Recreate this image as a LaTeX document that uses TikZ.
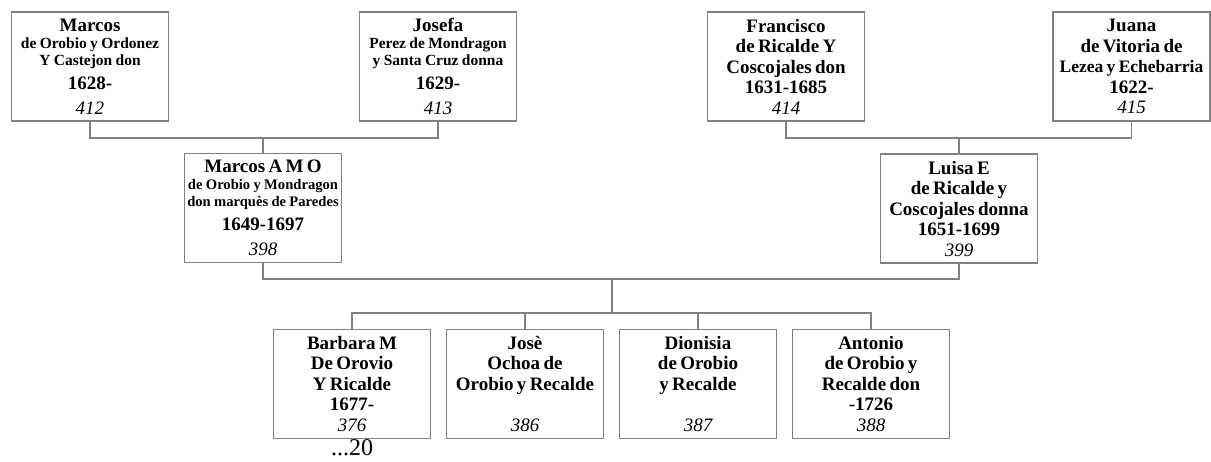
\documentclass[tikz,border=0pt]{standalone}
\usepackage{fontspec}
\setmainfont{Liberation Serif}
\definecolor{lg}{RGB}{128,128,128}
\newcommand\fnm{\fontsize{19}{20.5}\selectfont\bfseries}
\newcommand\fsub{\fontsize{15.5}{16.9}\selectfont\bfseries}
\newcommand\fsubs{\fontsize{14.6}{16.9}\selectfont\bfseries}
\newcommand\fyr{\fontsize{19}{24}\selectfont\bfseries}
\newcommand\fnoA{\fontsize{19}{25}\selectfont\mdseries\itshape}
\newcommand\fno{\fontsize{19}{20.5}\selectfont\mdseries\itshape}
\begin{document}
\begin{tikzpicture}[x=1pt,y=-1pt,
  person/.style={draw=lg, line width=1.3pt, fill=white, text width=157pt,
    inner xsep=0pt, inner ysep=0pt, minimum height=109pt, align=center},
  link/.style={draw=lg, line width=1.3pt}]
\useasboundingbox (0,0) rectangle (1211,461);
% top row
\node[person] (marcos) at (90,66.5) {\fnm Marcos\\ \fsub de Orobio y Ordonez\\ Y Castejon don\\ \fyr 1628-\\ \fnoA 412\par};
\node[person] (josefa) at (438,66.5) {\fnm Josefa\\ \fsub Perez de Mondragon\\ y Santa Cruz donna\\ \fyr 1629-\\ \fnoA 413\par};
\node[person] (francisco) at (786,66.5) {\fnm Francisco\\ de Ricalde Y\\ Coscojales don\\ 1631-1685\\ \fno 414\par};
\node[person] (juana) at (1131.5,66.5) {\fnm Juana\\ de Vitoria de\\ {\fontsize{17.5}{20.5}\selectfont Lezea y Echebarria}\\ 1622-\\ \fno 415\par};
% middle row
\node[person] (marcosamo) at (263,208) {\fnm Marcos A M O\\ \fsubs de Orobio y Mondragon\\ don marquès de Paredes\\ \fyr 1649-1697\\ \fnoA 398\par};
\node[person] (luisa) at (959,208.5) {\fnm Luisa E\\ de Ricalde y\\ Coscojales donna\\ 1651-1699\\ \fno 399\par};
% children
\node[person] (barbara) at (352,383.7) {\fnm Barbara M\\ De Orovio\\ Y Ricalde\\ 1677-\\ \fno 376\par};
\node[person] (jose) at (525,383.7) {\fnm Josè\\ Ochoa de\\ Orobio y Recalde\\ \mbox{}\\ \fno 386\par};
\node[person] (dionisia) at (698,383.7) {\fnm Dionisia\\ de Orobio\\ y Recalde\\ \mbox{}\\ \fno 387\par};
\node[person] (antonio) at (871,383.7) {\fnm Antonio\\ de Orobio y\\ Recalde don\\ -1726\\ \fno 388\par};
\node[anchor=base, inner sep=0pt, font=\fontsize{24}{26}\selectfont] (more) at (352,455.5) {...20};
% connectors
\coordinate (ptop) at (0,138);
\coordinate (pmid) at (0,279);
\coordinate (fam) at (612,279);
\coordinate (kids) at (612,313);
\draw[link] (marcos.south) |- (josefa.south |- ptop) -- (josefa.south);
\draw[link] (marcosamo.north) -- (marcosamo.north |- ptop);
\draw[link] (francisco.south) |- (juana.south |- ptop) -- (juana.south);
\draw[link] (luisa.north) -- (luisa.north |- ptop);
\draw[link] (marcosamo.south) |- (luisa.south |- pmid) -- (luisa.south);
\draw[link] (fam) -- (kids);
\draw[link] (barbara.north) |- (antonio.north |- kids) -- (antonio.north);
\draw[link] (jose.north) -- (jose.north |- kids);
\draw[link] (dionisia.north) -- (dionisia.north |- kids);
\end{tikzpicture}
\end{document}
